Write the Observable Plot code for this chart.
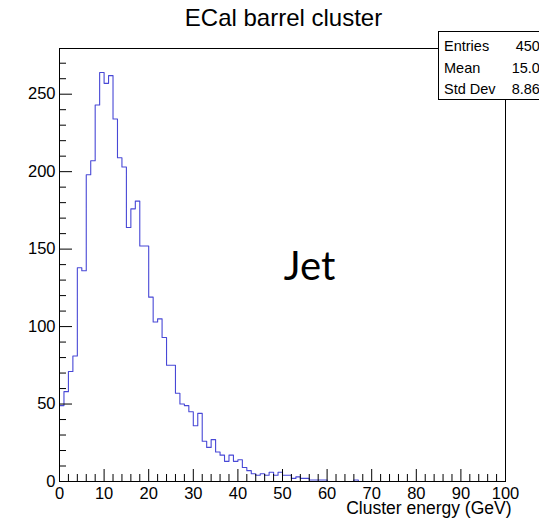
<!DOCTYPE html>
<html>
<head>
<meta charset="utf-8">
<script src="https://cdn.jsdelivr.net/npm/d3@7"></script>
<script src="https://cdn.jsdelivr.net/npm/@observablehq/plot@0.6"></script>
<style>
  html, body { margin: 0; padding: 0; background: #fff; overflow: hidden; }
  #chart { position: relative; width: 539px; height: 519px; overflow: hidden;
           font-family: "Liberation Sans", Arial, Helvetica, sans-serif; }
  #stats { position: absolute; left: 438px; top: 31px; width: 124px; height: 69px;
           box-sizing: border-box; border: 1px solid #000; background: #fff; font-size: 14.5px; }
  #stats .row { position: absolute; left: 5px; width: 104px; height: 22px; line-height: 22px; }
  #stats .row span:last-child { position: absolute; right: 0; }
</style>
</head>
<body>
<div id="chart"></div>
<script>
// ECal barrel cluster energy histogram: 100 bins of 1 GeV from 0 to 100 GeV
const binLow = d3.range(0, 100, 1);
const counts = [
  49, 58, 71, 81, 138, 136, 198, 207, 243, 264,
  257, 262, 234, 209, 203, 164, 176, 181, 152, 152,
  119, 103, 105, 93, 75, 75, 57, 50, 49, 45,
  36, 44, 26, 22, 27, 19, 17, 13, 17, 13,
  14, 9, 7, 5, 4, 5, 4, 6, 4, 6,
  4, 4, 2, 3, 2, 2, 1, 1, 1, 1,
  0, 0, 0, 0, 0, 0, 1, 0, 0, 0,
  0, 0, 0, 0, 0, 0, 0, 0, 0, 0,
  0, 0, 0, 0, 0, 0, 0, 0, 0, 0,
  0, 0, 0, 0, 0, 0, 0, 0, 0, 0
];
const xDomain = [0, 100];
const yDomain = [0, 279.5];

// axis ticks
const xMajorTicks = [0, 10, 20, 30, 40, 50, 60, 70, 80, 90, 100];
const xMinorTicks = d3.range(0, 101, 2).filter(v => v % 10 !== 0);
const yMajorTicks = [0, 50, 100, 150, 200, 250];
const yMinorTicks = d3.range(0, 280, 10).filter(v => v % 50 !== 0);

// statistics box
const statNames = ["Entries", "Mean", "Std Dev"];
const statValues = ["4500", "15.03", "8.862"];

const titleText = "ECal barrel cluster";
const xLabel = "Cluster energy (GeV)";
const annotation = "Jet";

// step outline: each bin's left edge, plus the closing right edge
const steps = binLow.map((x, i) => ({x, y: counts[i]}));
steps.push({x: 100, y: counts[counts.length - 1]});

const W = 539, H = 519;
const mL = 59, mR = 34, mT = 48, mB = 38;
const frameW = W - mL - mR, frameH = H - mT - mB;

const plot = Plot.plot({
  width: W,
  height: H,
  marginLeft: mL,
  marginRight: mR,
  marginTop: mT,
  marginBottom: mB,
  style: {fontFamily: "'Liberation Sans', Arial, Helvetica, sans-serif", fontSize: "16px", background: "#fff", overflow: "visible"},
  x: {domain: xDomain},
  y: {domain: yDomain},
  marks: [
    Plot.line(steps, {x: "x", y: "y", curve: "step-after", stroke: "#4848d6", strokeWidth: 1.1}),
    Plot.frame({stroke: "#000", strokeWidth: 1}),
    // inward ticks on the bottom axis
    Plot.tickX(xMajorTicks, {x: d => d, stroke: "#000", insetTop: frameH - 12}),
    Plot.tickX(xMinorTicks, {x: d => d, stroke: "#000", insetTop: frameH - 7}),
    // inward ticks on the left axis
    Plot.tickY(yMajorTicks, {y: d => d, stroke: "#000", insetRight: frameW - 13}),
    Plot.tickY(yMinorTicks, {y: d => d, stroke: "#000", insetRight: frameW - 7}),
    Plot.axisX(xMajorTicks, {tickSize: 0, tickPadding: 6, label: null, fontSize: 16.5}),
    Plot.axisY(yMajorTicks, {tickSize: 0, tickPadding: 4, label: null, fontSize: 16.5}),
    Plot.text([xLabel], {text: d => d, frameAnchor: "bottom-right", dx: 6, dy: 27,
      textAnchor: "end", lineAnchor: "middle", fontSize: 17.5}),
    Plot.text([titleText], {text: d => d, frameAnchor: "top", dx: 1, dy: -30,
      lineAnchor: "middle", fontSize: 24}),
    Plot.text([annotation], {text: d => d, frameAnchor: "middle", dx: 27, dy: 2,
      lineAnchor: "middle", fontSize: 40, fontFamily: "Lato, 'Open Sans', sans-serif"})
  ]
});

const chart = document.getElementById("chart");
chart.appendChild(plot);

// statistics box drawn over the top-right corner of the frame
const stats = document.createElement("div");
stats.id = "stats";
statNames.forEach((name, i) => {
  const row = document.createElement("div");
  row.className = "row";
  row.style.top = (3 + i * 21.5) + "px";
  const a = document.createElement("span");
  a.textContent = name;
  const b = document.createElement("span");
  b.textContent = statValues[i];
  row.appendChild(a);
  row.appendChild(b);
  stats.appendChild(row);
});
chart.appendChild(stats);
</script>
</body>
</html>
